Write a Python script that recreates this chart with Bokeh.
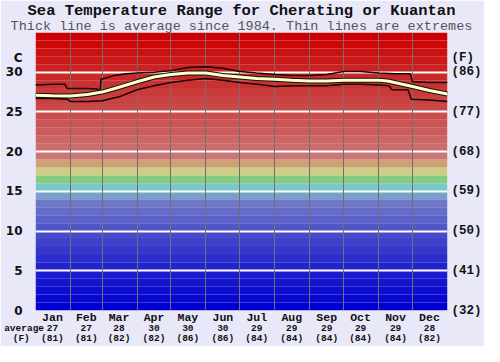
from bokeh.plotting import figure
from bokeh.models import (Range1d, FixedTicker, LinearAxis, Grid, Title)
from bokeh.embed import file_html
from bokeh.resources import INLINE

# ---------------- data ----------------
months = ["Jan", "Feb", "Mar", "Apr", "May", "Jun", "Jul", "Aug", "Sep", "Oct", "Nov", "Dec"]
month_len = [31, 28, 31, 30, 31, 30, 31, 31, 30, 31, 30, 31]
avg_c_month = [27, 27, 28, 30, 30, 30, 29, 29, 29, 29, 29, 28]
avg_f_month = [81, 81, 82, 82, 86, 86, 84, 84, 84, 84, 84, 82]

avg_days = [0, 15, 31, 46, 59, 74, 90, 105, 120, 135, 151, 166, 181, 196, 212, 227, 243,
            258, 273, 288, 304, 312, 334, 349, 365]
avg_vals = [27.1, 27.05, 27.0, 27.2, 27.5, 28.1, 28.8, 29.4, 29.7, 29.9, 29.9, 29.6, 29.4,
            29.2, 29.1, 29.0, 28.9, 28.9, 29.0, 29.0, 29.0, 28.9, 28.2, 27.7, 27.25]

max_days = [0, 15, 26, 28, 46, 55, 57, 58, 63, 70, 80, 90, 105, 120, 135, 151, 166, 181,
            196, 212, 227, 243, 258, 273, 288, 304, 319, 332, 334, 349, 365]
max_vals = [28.4, 28.5, 28.5, 27.95, 27.95, 27.9, 27.2, 29.1, 29.3, 29.6, 29.8, 29.9, 30.0,
            30.2, 30.6, 30.7, 30.5, 30.1, 29.9, 29.7, 29.6, 29.6, 29.7, 30.1, 30.1, 29.9,
            29.8, 29.8, 28.8, 28.7, 28.7]

min_days = [0, 15, 28, 31, 46, 59, 74, 90, 105, 120, 135, 151, 166, 181, 196, 212, 227,
            243, 258, 273, 288, 304, 313, 316, 330, 333, 349, 365]
min_vals = [26.7, 26.7, 26.6, 26.3, 26.3, 26.4, 26.9, 27.8, 28.3, 28.7, 29.0, 29.2, 29.0,
            28.7, 28.5, 28.2, 28.3, 28.3, 28.3, 28.5, 28.5, 28.4, 28.3, 27.8, 27.8, 26.6,
            26.5, 26.3]

c_ticks = [0, 5, 10, 15, 20, 25, 30]
f_labels = ["(32)", "(41)", "(50)", "(59)", "(68)", "(77)", "(86)"]
unit_tick = 31.8
row_captions = ["average", "(F)"]

title_text = "Sea Temperature Range for Cherating or Kuantan"
subtitle_text = "Thick line is average since 1984. Thin lines are extremes"

# ---------------- styling helpers ----------------
BG = "#e8e8f8"
MONO = "Liberation Mono"
INK = "#111111"
NBSP = "\u00a0"

anchors = [(0.5, (0, 0, 210)), (5.5, (35, 35, 205)), (10.5, (80, 85, 200)),
           (13.5, (110, 120, 200)), (14.5, (120, 160, 200)), (15.5, (120, 200, 205)),
           (16.5, (130, 205, 130)), (17.5, (205, 205, 130)), (18.5, (205, 160, 120)),
           (19.5, (205, 118, 118)), (22.5, (203, 92, 92)), (27.5, (202, 58, 58)),
           (34.5, (204, 0, 0))]


def band_color(t):
    for (t0, c0), (t1, c1) in zip(anchors[:-1], anchors[1:]):
        if t0 <= t <= t1:
            f = (t - t0) / (t1 - t0)
            r, g, b = (int(round(a + (bb - a) * f)) for a, bb in zip(c0, c1))
            return "#%02x%02x%02x" % (r, g, b)
    return "#cc0000"


band_lo = list(range(0, 35))
band_hi = [b + 1 for b in band_lo]
band_cols = [band_color(b + 0.5) for b in band_lo]

month_starts = [sum(month_len[:i]) for i in range(12)]
month_mid = [int(month_starts[i] + month_len[i] / 2) for i in range(12)]

# ---------------- figure ----------------
p = figure(width=484, height=346, x_range=Range1d(0, 365), y_range=Range1d(0, 35),
           output_backend="svg", toolbar_location=None, x_axis_type=None,
           min_border_left=35, min_border_right=20, min_border_bottom=0, min_border_top=0,
           border_fill_color=BG, background_fill_color=BG, outline_line_color=None)

p.title.text = title_text
p.title.text_font = MONO
p.title.text_font_size = "15.5px"
p.title.text_font_style = "bold"
p.title.align = "center"
p.title.standoff = -2
p.title.offset = 0
p.title.text_color = INK
sub = Title(text=subtitle_text, text_font=MONO, text_font_size="13.5px",
            text_font_style="normal", align="center", text_color="#555555", standoff=-3)
p.add_layout(sub, "above")

# bands
p.quad(left=0, right=365, bottom=band_lo, top=band_hi, fill_color=band_cols,
       line_color=None, level="image")

# grids
p.ygrid.visible = False
p.add_layout(Grid(dimension=1, ticker=FixedTicker(ticks=c_ticks[1:]),
                  grid_line_color="white", grid_line_width=2))
p.add_layout(Grid(dimension=0, ticker=FixedTicker(ticks=month_starts[1:]),
                  grid_line_color="#707070", grid_line_width=1))

# lines
p.line(max_days, max_vals, line_color="#1a0000", line_width=1.5)
p.line(min_days, min_vals, line_color="#1a0000", line_width=1.5)
p.line(avg_days, avg_vals, line_color="#111111", line_width=5)
p.line(avg_days, avg_vals, line_color="#ffffc8", line_width=3)

# left axis
ya = p.yaxis[0]
ya.ticker = FixedTicker(ticks=c_ticks + [unit_tick])
ya.major_label_overrides = {unit_tick: "C"}
ya.axis_line_color = None
ya.major_tick_line_color = None
ya.minor_tick_line_color = None
ya.major_tick_out = 0
ya.major_tick_in = 0
ya.major_label_standoff = 13
ya.major_label_text_font = "DejaVu Sans"
ya.major_label_text_font_style = "bold"
ya.major_label_text_font_size = "12px"
ya.major_label_text_color = INK

# right axis
overrides = {t: l for t, l in zip(c_ticks, f_labels)}
overrides[unit_tick] = "(F)"
ra = LinearAxis(ticker=FixedTicker(ticks=c_ticks + [unit_tick]), major_label_overrides=overrides,
                axis_line_color=None, major_tick_line_color=None, minor_tick_line_color=None,
                major_tick_out=0, major_tick_in=0,
                major_label_standoff=4, major_label_text_font=MONO,
                major_label_text_font_style="bold", major_label_text_font_size="12.5px",
                major_label_text_color=INK)
p.add_layout(ra, "right")


# bottom rows: three stacked axes
def bottom_axis(labels, size, standoff, caption=None, pad=0):
    ticks = list(month_mid)
    over = {d: t for d, t in zip(month_mid, labels)}
    if caption is not None:
        ticks = [0] + ticks
        over[0] = caption + NBSP * pad
    return LinearAxis(ticker=FixedTicker(ticks=ticks), major_label_overrides=over,
                      axis_line_color=None, major_tick_line_color=None,
                      minor_tick_line_color=None, major_tick_out=0, major_tick_in=0,
                      major_label_standoff=standoff, major_label_text_font=MONO,
                      major_label_text_font_style="bold", major_label_text_font_size=size,
                      major_label_text_color=INK)


p.add_layout(bottom_axis(months, "11.5px", 0), "below")
p.add_layout(bottom_axis([str(v) for v in avg_c_month], "9.5px", -4, row_captions[0], 4), "below")
p.add_layout(bottom_axis(["(%d)" % v for v in avg_f_month], "9.5px", -4, row_captions[1], 5), "below")

open("out.html", "w").write(file_html(p, INLINE))
